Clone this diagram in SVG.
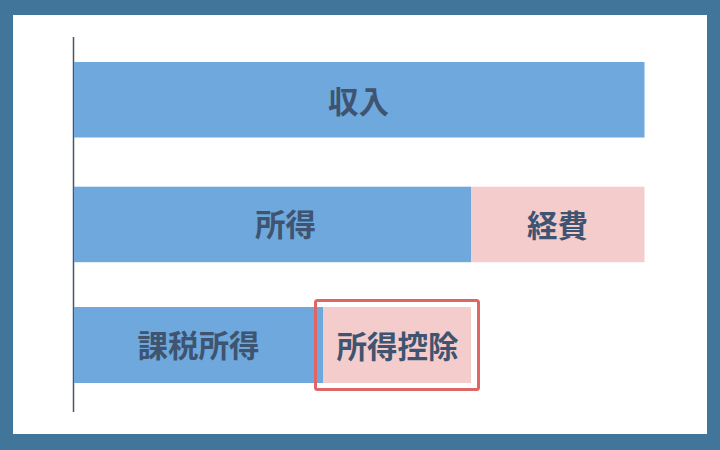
<svg xmlns="http://www.w3.org/2000/svg" width="720" height="450" viewBox="0 0 720 450">
<style>
.blue{fill:#6ea8dc}
.pink{fill:#f4cccc}
.lbl{font-family:"Noto Sans CJK JP","Noto Sans CJK SC",sans-serif;font-weight:700;font-size:30.5px;fill:#3e5470;text-anchor:middle;dominant-baseline:central}
</style>
<rect x="0" y="0" width="720" height="450" fill="#417599"/>
<rect x="13" y="15" width="694" height="419" fill="#ffffff"/>
<g id="axis"><line x1="73.5" y1="37" x2="73.5" y2="412" stroke="#4a5568" stroke-width="1.5"/></g>
<g id="income"><rect class="blue" x="74" y="62" width="570.5" height="75.5"/><text class="lbl" x="358.5" y="99.5">収入</text></g>
<g id="shotoku"><rect class="blue" x="74" y="186.7" width="397" height="75.5"/><text class="lbl" x="285.5" y="222.5">所得</text></g>
<g id="keihi"><rect class="pink" x="471" y="186.7" width="173.5" height="75.5"/><text class="lbl" x="557.5" y="223.5">経費</text></g>
<g id="kazei"><rect class="blue" x="74" y="307" width="249" height="76"/><text class="lbl" x="198.5" y="344">課税所得</text></g>
<g id="kojo"><rect class="pink" x="323" y="307" width="148" height="76"/><text class="lbl" x="397.5" y="345">所得控除</text></g>
<g id="connectors"><rect x="315.5" y="300.5" width="163" height="89" rx="2" fill="none" stroke="#e06666" stroke-width="3"/></g>
</svg>
